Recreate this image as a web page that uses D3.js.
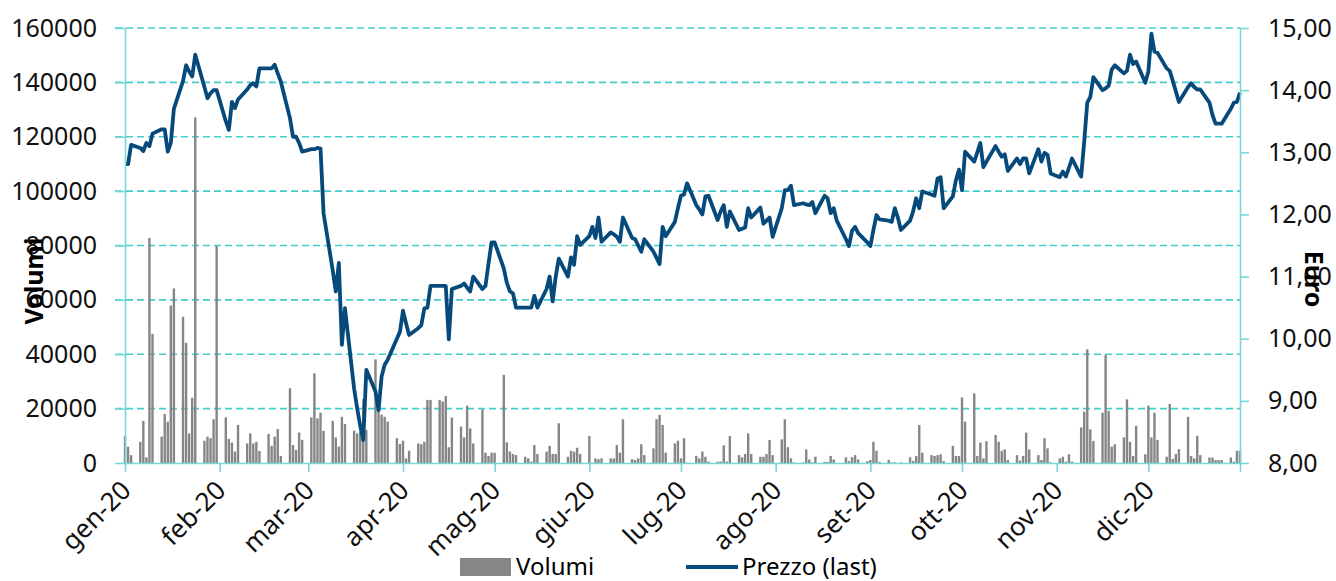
<!DOCTYPE html>
<html>
<head>
<meta charset="utf-8">
<script src="https://cdn.jsdelivr.net/npm/d3@7"></script>
<style>
  body { margin: 0; background: #fff; }
  text { font-family: 'Noto Sans', sans-serif; }
</style>
</head>
<body>
<div id="chart"></div>
<script>
// month labels for the x axis
const monthLabels = ["gen-20", "feb-20", "mar-20", "apr-20", "mag-20", "giu-20",
  "lug-20", "ago-20", "set-20", "ott-20", "nov-20", "dic-20"];

// closing price (euro), one value per weekday of each month
const priceJan = [12.81, 12.81, 13.12, 13.07, 13.02, 13.15, 13.10, 13.30, 13.37, 13.37, 13.01, 13.15, 13.70, 14.15, 14.40, 14.30, 14.22, 14.57, 14.05, 13.87, 13.95, 14.00, 14.00];
const priceFeb = [13.50, 13.36, 13.81, 13.71, 13.85, 14.01, 14.08, 14.11, 14.06, 14.35, 14.35, 14.35, 14.41, 14.27, 14.14, 13.55, 13.25, 13.25, 13.15, 13.01];
const priceMar = [13.05, 13.05, 13.07, 13.06, 12.02, 11.10, 10.76, 11.22, 9.90, 10.49, 9.20, 8.88, 8.60, 8.37, 9.50, 9.15, 8.85, 9.39, 9.58, 9.66, 10.00, 10.11];
const priceApr = [10.45, 10.25, 10.06, 10.17, 10.22, 10.49, 10.50, 10.85, 10.85, 10.85, 10.85, 9.99, 10.80, 10.85, 10.89, 10.82, 10.76, 11.00, 10.80, 10.85, 11.21, 11.55];
const priceMay = [11.55, 11.13, 10.90, 10.76, 10.73, 10.50, 10.50, 10.50, 10.50, 10.69, 10.50, 10.80, 11.00, 10.60, 11.00, 11.29, 11.00, 11.31, 11.19, 11.65, 11.51];
const priceJun = [11.65, 11.80, 11.62, 11.95, 11.56, 11.71, 11.68, 11.64, 11.56, 11.95, 11.62, 11.60, 11.50, 11.40, 11.60, 11.40, 11.30, 11.20, 11.80, 11.65, 11.88, 12.10];
const priceJul = [12.30, 12.32, 12.50, 12.15, 12.08, 12.00, 12.29, 12.30, 11.91, 12.05, 12.15, 11.80, 12.05, 11.75, 11.77, 11.79, 12.10, 11.95, 12.11, 11.85, 11.90, 11.95, 11.64];
const priceAug = [12.10, 12.39, 12.39, 12.46, 12.15, 12.18, 12.16, 12.15, 12.20, 12.02, 12.30, 12.26, 12.02, 12.10, 11.90, 11.60, 11.49, 11.74, 11.80, 11.70, 11.55];
const priceSep = [11.49, 11.75, 11.99, 11.92, 11.90, 11.88, 12.10, 11.95, 11.75, 11.90, 12.05, 12.26, 12.10, 12.37, 12.32, 12.30, 12.58, 12.60, 12.10, 12.29, 12.55, 12.72];
const priceOct = [12.39, 13.01, 12.85, 13.00, 13.15, 12.76, 12.85, 13.10, 13.01, 12.93, 12.97, 12.70, 12.90, 12.81, 12.90, 12.90, 12.66, 13.05, 12.85, 12.99, 12.96, 12.66];
const priceNov = [12.60, 12.69, 12.61, 12.75, 12.90, 12.61, 13.17, 13.80, 13.89, 14.21, 14.00, 14.03, 14.07, 14.33, 14.40, 14.27, 14.31, 14.57, 14.42, 14.46, 14.12];
const priceDec = [14.30, 14.91, 14.62, 14.60, 14.35, 14.31, 14.15, 13.98, 13.81, 14.05, 14.11, 14.05, 14.01, 14.01, 13.80, 13.60, 13.46, 13.46, 13.46, 13.70, 13.80, 13.81, 13.96];

// traded volumes, one value per weekday of each month
const volJan = [9900, 6000, 2900, 7800, 15500, 2100, 82800, 47500, 9700, 18000, 15200, 57900, 64200, 53800, 44200, 10900, 24000, 127100, 8200, 9700, 9100, 16100, 79800];
const volFeb = [16800, 8900, 7500, 4200, 14000, 7200, 10900, 7200, 7800, 4400, 10700, 6300, 9700, 12500, 2600, 27500, 6600, 4800, 11200, 8500];
const volMar = [16800, 33000, 16400, 18500, 11800, 15500, 9400, 6000, 17000, 14300, 11900, 10900, 11500, 23500, 12200, 38100, 19500, 17800, 17000, 15200, 9100, 7000];
const volApr = [8200, 1700, 4500, 7200, 6900, 7800, 23200, 23200, 23200, 22600, 24600, 5800, 16700, 13400, 9400, 21100, 12700, 7200, 19700, 3800, 2600, 3800];
const volMay = [3800, 32400, 7600, 4200, 3300, 2900, 2300, 1700, 500, 6600, 3300, 4200, 6300, 3300, 3300, 14600, 2300, 4500, 4200, 5600, 3300];
const volJun = [9900, 100, 1700, 1400, 1700, 1700, 1700, 6600, 3800, 16100, 1400, 1100, 1700, 6900, 2900, 5400, 16100, 17700, 14000, 3800, 7200, 8200];
const volJul = [1700, 9100, 100, 2600, 1700, 4200, 2300, 500, 500, 500, 6500, 500, 9900, 2900, 2100, 3300, 10900, 3300, 2300, 2300, 3300, 8500, 2900];
const volAug = [8700, 16100, 5800, 1700, 200, 200, 5000, 1300, 200, 2300, 400, 400, 2600, 1300, 0, 2100, 700, 2100, 2900, 1300, 700];
const volSep = [1100, 7800, 4500, 400, 1100, 200, 200, 0, 200, 2100, 800, 2600, 14000, 3800, 2900, 2600, 2900, 3200, 700, 6300, 2600, 2600];
const volOct = [24100, 15200, 25600, 2600, 7500, 1700, 8000, 10300, 7800, 4500, 5000, 1100, 2900, 900, 2600, 11200, 5000, 2900, 1100, 9100, 5400, 200];
const volNov = [1700, 2300, 500, 3200, 500, 13100, 18900, 41800, 12400, 8100, 18500, 39700, 19200, 6000, 6900, 9400, 23400, 7800, 2600, 13700, 3200];
const volDec = [21100, 9400, 18500, 8500, 2300, 21700, 1500, 3300, 5100, 17000, 2600, 1700, 10000, 2900, 2000, 2000, 1100, 1100, 1100, 2000, 500, 4500, 4500];

const volTicks = [0, 20000, 40000, 60000, 80000, 100000, 120000, 140000, 160000];
const priceTicks = [8, 9, 10, 11, 12, 13, 14, 15];

// weekdays of 2020 (the dates of the series)
const days = d3.timeDay.range(new Date(2020, 0, 1), new Date(2021, 0, 1))
  .filter(d => d.getDay() !== 0 && d.getDay() !== 6);
const prices = [].concat(priceJan, priceFeb, priceMar, priceApr, priceMay, priceJun,
  priceJul, priceAug, priceSep, priceOct, priceNov, priceDec);
const volumes = [].concat(volJan, volFeb, volMar, volApr, volMay, volJun,
  volJul, volAug, volSep, volOct, volNov, volDec);
const data = days.map((d, i) => ({ date: d, price: prices[i], vol: volumes[i] }));

let margin = { top: 28, left: 125, right: 96, bottom: 118 },
  width = 1336 - margin.left - margin.right,
  height = 581 - margin.top - margin.bottom;

const axisColor = '#78d8d8';
const gridColor = '#45cccc';

let svg = d3.select('#chart')
  .append('svg')
  .attr('width', 1336)
  .attr('height', 581)
  .style('display', 'block');

let g = svg.append('g')
  .attr('transform', `translate(${margin.left},${margin.top})`);

let x = d3.scaleTime()
  .domain([new Date(2020, 0, 1), new Date(2020, 11, 31)])
  .range([0, width]);

let yVol = d3.scaleLinear().domain([0, 160000]).range([height, 0]);
let yPrice = d3.scaleLinear().domain([8, 15]).range([height, 0]);

// dashed grid
g.append('g')
  .selectAll('line')
  .data(volTicks.filter(v => v > 0))
  .join('line')
  .attr('x1', -10)
  .attr('x2', width)
  .attr('y1', d => yVol(d))
  .attr('y2', d => yVol(d))
  .attr('stroke', gridColor)
  .attr('stroke-width', 1.6)
  .attr('stroke-dasharray', '7,4');

// volume bars
g.append('g')
  .selectAll('rect')
  .data(data)
  .join('rect')
  .attr('x', d => x(d.date) - 1.2)
  .attr('width', 2.4)
  .attr('y', d => yVol(d.vol))
  .attr('height', d => height - yVol(d.vol))
  .attr('fill', '#868686');

// price line
let line = d3.line()
  .x(d => x(d.date))
  .y(d => yPrice(d.price));

g.append('path')
  .datum(data)
  .attr('d', line)
  .attr('fill', 'none')
  .attr('stroke', '#064a7c')
  .attr('stroke-width', 3.8)
  .attr('stroke-linejoin', 'round');

function styleAxis(sel) {
  sel.selectAll('path, line').attr('stroke', axisColor).attr('stroke-width', 1.6);
  sel.selectAll('text').attr('fill', '#111').style('font-size', '25px');
}

// left axis
let leftAxis = g.append('g')
  .call(d3.axisLeft(yVol).tickValues(volTicks).tickSize(10).tickSizeOuter(0)
    .tickPadding(18).tickFormat(d3.format('d')));
styleAxis(leftAxis);

// right axis
let rightAxis = g.append('g')
  .attr('transform', `translate(${width},0)`)
  .call(d3.axisRight(yPrice).tickValues(priceTicks).tickSize(9).tickSizeOuter(0)
    .tickPadding(19).tickFormat(d => d3.format('.2f')(d).replace('.', ',')));
styleAxis(rightAxis);

// bottom axis: month starts plus the closing tick at the end of the year
let monthTicks = d3.timeMonth.range(new Date(2020, 0, 1), new Date(2021, 0, 1))
  .concat([new Date(2020, 11, 31)]);
let bottomAxis = g.append('g')
  .attr('transform', `translate(0,${height})`)
  .call(d3.axisBottom(x).tickValues(monthTicks).tickSize(9).tickSizeOuter(0)
    .tickFormat(d => d.getDate() === 1 ? monthLabels[d.getMonth()] : ''));
styleAxis(bottomAxis);
bottomAxis.selectAll('text')
  .attr('text-anchor', 'end')
  .attr('x', 0)
  .attr('y', 0)
  .attr('dy', 0)
  .style('font-size', '26px')
  .attr('transform', 'translate(7,29) rotate(-45)');

// axis titles
svg.append('text')
  .attr('transform', 'translate(33,281) rotate(-90)')
  .attr('text-anchor', 'middle')
  .attr('dominant-baseline', 'central')
  .style('font-size', '25px')
  .style('font-weight', 'bold')
  .text('Volumi');

svg.append('text')
  .attr('transform', 'translate(1315,279) rotate(90)')
  .attr('text-anchor', 'middle')
  .attr('dominant-baseline', 'central')
  .style('font-size', '25px')
  .style('font-weight', 'bold')
  .text('Euro');

// legend
let legend = svg.append('g');
legend.append('rect')
  .attr('x', 460).attr('y', 558).attr('width', 51).attr('height', 18)
  .attr('fill', '#868686');
legend.append('text')
  .attr('x', 516).attr('y', 575)
  .style('font-size', '24px')
  .text('Volumi');
legend.append('line')
  .attr('x1', 686).attr('x2', 738).attr('y1', 567).attr('y2', 567)
  .attr('stroke', '#064a7c').attr('stroke-width', 4);
legend.append('text')
  .attr('x', 742).attr('y', 575)
  .style('font-size', '24px')
  .text('Prezzo (last)');
</script>
</body>
</html>
